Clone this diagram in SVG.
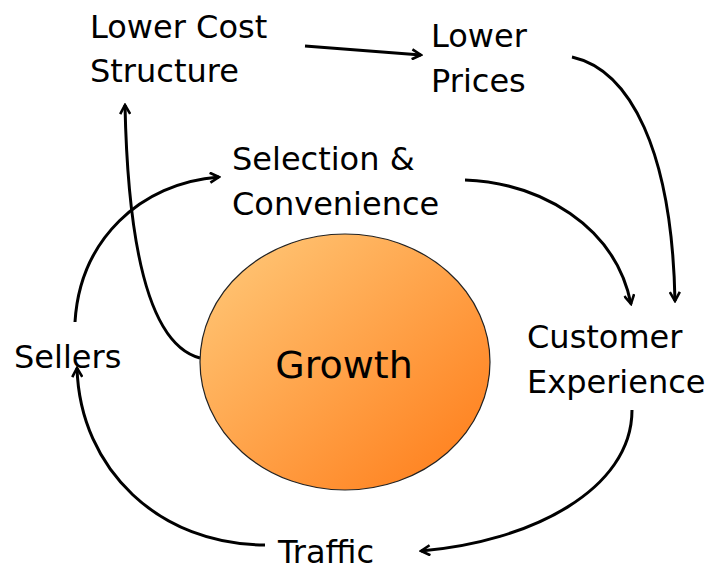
<svg xmlns="http://www.w3.org/2000/svg" width="710" height="579" viewBox="0 0 710 579">
<defs>
<style>
.t{font-family:"DejaVu Sans","Liberation Sans",sans-serif;font-size:32px;fill:#000}
.c{fill:none;stroke:#000;stroke-width:3;marker-end:url(#ah)}
</style>
<marker id="ah" viewBox="0 0 12 12" refX="10" refY="6" markerWidth="12" markerHeight="12" markerUnits="userSpaceOnUse" orient="auto">
<path d="M1,1 L10,6 L1,11" fill="none" stroke="#000" stroke-width="2.6" stroke-linejoin="miter"/>
</marker>
<linearGradient id="g" x1="0" y1="0" x2="1" y2="1">
<stop offset="0" stop-color="#FFCB7C"/>
<stop offset="1" stop-color="#FF7A16"/>
</linearGradient>
</defs>
<rect width="710" height="579" fill="#fff"/>
<g id="connectors">
<path class="c" d="M305,46 L421,55"/>
<path class="c" d="M572,57 C630,70 672,150 675,301"/>
<path class="c" d="M465,180 C540,183 615,225 631,304"/>
<path class="c" d="M632,410 C632,490 530,542 421,551"/>
<path class="c" d="M265,545 C160,545 80,470 77,368"/>
<path class="c" d="M75,322 C80,240 140,183 219,177"/>
<path class="c" d="M200,358 C150,345 128,250 125,105"/>
</g>
<g id="growth">
<ellipse cx="345" cy="362" rx="145" ry="128" fill="url(#g)" stroke="#222" stroke-width="1.2"/>
<text x="344" y="378" text-anchor="middle" class="t" style="font-size:38px">Growth</text>
</g>
<g id="lower-cost"><text class="t" x="90" y="38">Lower Cost</text><text class="t" x="90" y="82">Structure</text></g>
<g id="lower-prices"><text class="t" x="431" y="47">Lower</text><text class="t" x="431" y="92">Prices</text></g>
<g id="selection"><text class="t" x="232" y="170">Selection &amp;</text><text class="t" x="232" y="215">Convenience</text></g>
<g id="sellers"><text class="t" x="14" y="368">Sellers</text></g>
<g id="customer"><text class="t" x="527" y="348">Customer</text><text class="t" x="527" y="393">Experience</text></g>
<g id="traffic"><text class="t" x="278" y="563">Traffic</text></g>
</svg>
